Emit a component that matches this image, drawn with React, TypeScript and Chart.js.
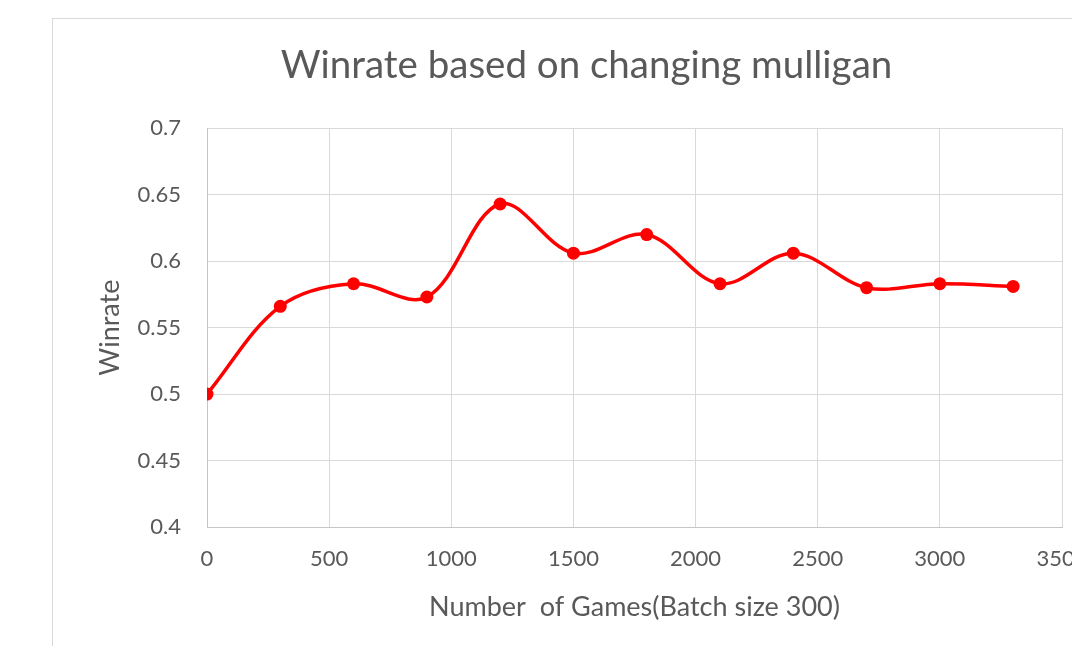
import React, { useEffect, useRef } from "react";
import { Chart, registerables } from "chart.js";

Chart.register(...registerables);

const games: number[] = [0, 300, 600, 900, 1200, 1500, 1800, 2100, 2400, 2700, 3000, 3300];
const winrate: number[] = [0.5, 0.566, 0.583, 0.573, 0.643, 0.606, 0.62, 0.583, 0.606, 0.58, 0.583, 0.581];
const titleText = "Winrate based on changing mulligan";
const xTitle = "Number  of Games(Batch size 300)";
const yTitle = "Winrate";

const FONT = "Lato, 'Open Sans', sans-serif";
const TEXT = "#595959";

export default function App() {
  const ref = useRef<HTMLCanvasElement | null>(null);

  useEffect(() => {
    if (!ref.current) return;
    const chart = new Chart(ref.current, {
      type: "line",
      data: {
        datasets: [
          {
            label: yTitle,
            data: games.map((g, i) => ({ x: g, y: winrate[i] })),
            borderColor: "#ff0000",
            backgroundColor: "#ff0000",
            borderWidth: 3.5,
            pointRadius: 6.5,
            pointBorderWidth: 0,
            tension: 0.35,
            fill: false,
            yAxisID: "y",
          },
        ],
      },
      options: {
        animation: false,
        responsive: false,
        maintainAspectRatio: false,
        layout: { padding: { left: 0, right: 0, top: 0, bottom: 0 } },
        plugins: {
          legend: { display: false },
          tooltip: { enabled: false },
          title: {
            display: true,
            text: titleText,
            color: TEXT,
            font: { family: FONT, size: 38.5, weight: "normal", lineHeight: 1.2 },
            padding: { top: 23, bottom: 40 },
          },
        },
        scales: {
          x: {
            type: "linear",
            min: 0,
            max: 3500,
            afterFit: (s: any) => {
              s.height = 119;
            },
            ticks: {
              stepSize: 500,
              color: TEXT,
              padding: 19,
              maxRotation: 0,
              font: { family: FONT, size: 22 },
              callback: (v: any) => String(v),
            },
            grid: { color: "#d9d9d9", lineWidth: 1, drawTicks: false },
            border: { color: "#c6c6c6", width: 1 },
            title: {
              display: true,
              text: xTitle,
              color: TEXT,
              font: { family: FONT, size: 27, lineHeight: 1.2 },
              padding: { top: 0, bottom: 23 },
            },
          },
          y: {
            position: "left",
            min: 0.4,
            max: 0.7,
            afterFit: (s: any) => {
              s.width = 154;
            },
            ticks: {
              stepSize: 0.05,
              color: TEXT,
              padding: 26,
              font: { family: FONT, size: 22 },
              callback: (v: any) => String(Math.round(Number(v) * 100) / 100),
            },
            grid: { color: "#d9d9d9", lineWidth: 1, drawTicks: false },
            border: { color: "#c6c6c6", width: 1 },
            title: {
              display: true,
              text: yTitle,
              color: TEXT,
              font: { family: FONT, size: 27, lineHeight: 1.2 },
              padding: { top: 41, bottom: 0 },
            },
          },
          yRight: {
            position: "right",
            min: 0.4,
            max: 0.7,
            display: true,
            afterFit: (s: any) => {
              s.width = 58;
            },
            ticks: { display: false },
            grid: { display: false, drawTicks: false },
            border: { display: false },
            title: { display: false },
          },
        },
      },
    });
    return () => chart.destroy();
  }, []);

  return (
    <div
      style={{
        position: "fixed",
        left: 0,
        top: 0,
        width: 1072,
        height: 646,
        overflow: "hidden",
        background: "#ffffff",
      }}
    >
      <div
        style={{
          position: "absolute",
          left: 52,
          top: 18,
          width: 1067,
          height: 660,
          borderLeft: "1px solid #d9d9d9",
          borderTop: "1px solid #d9d9d9",
          background: "#ffffff",
        }}
      >
        <canvas ref={ref} width={1067} height={627} style={{ display: "block" }} />
      </div>
    </div>
  );
}
